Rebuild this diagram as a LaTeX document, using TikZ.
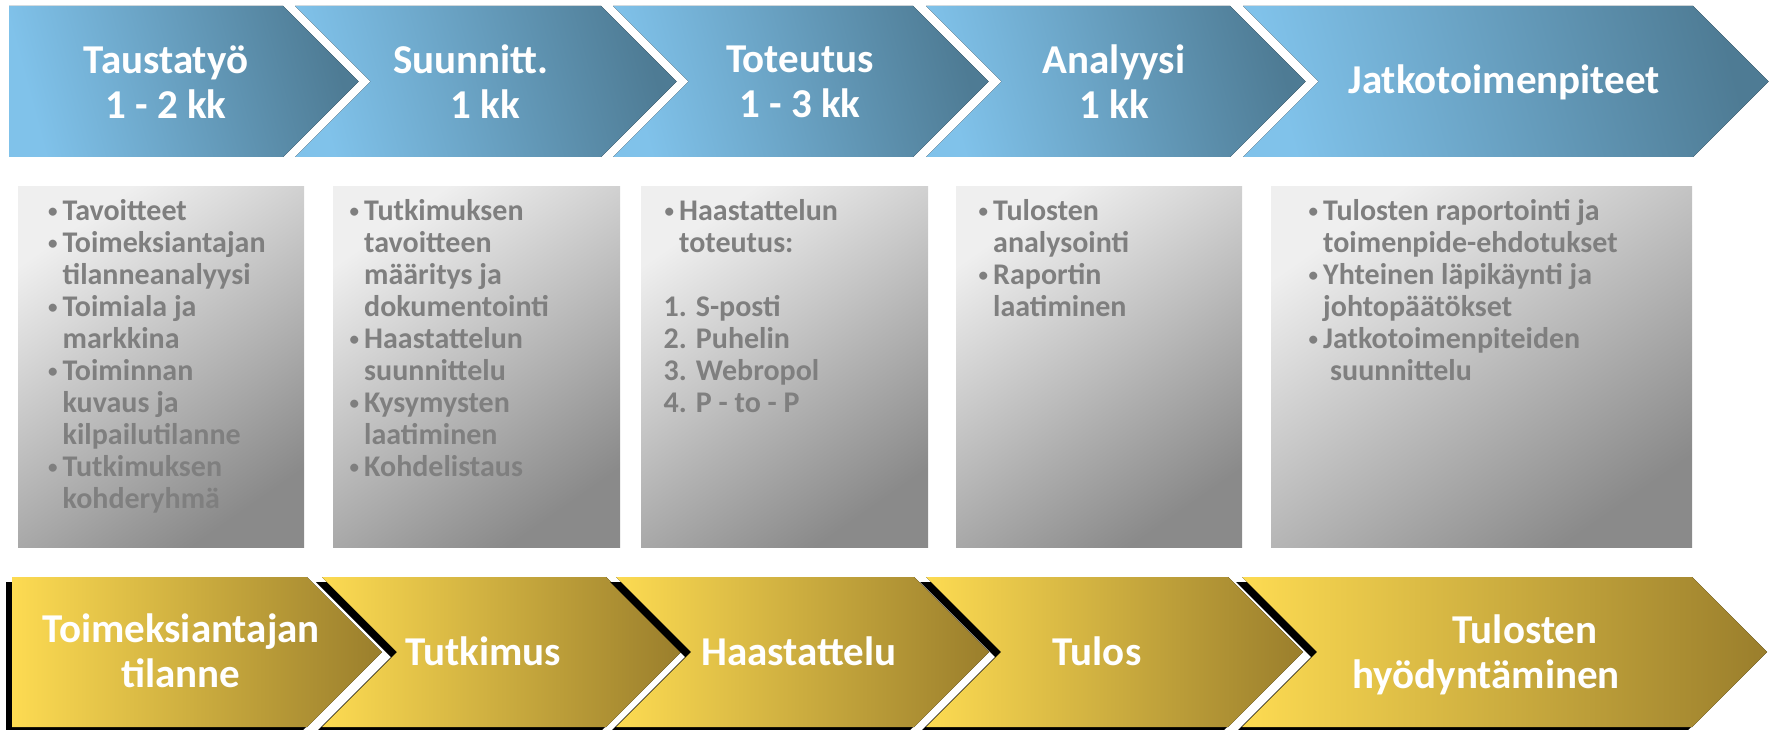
\documentclass[tikz,border=0pt]{standalone}
\usepackage{fontspec}
\setmainfont{Carlito}

\definecolor{phaselight}{HTML}{80C2EA}
\definecolor{phasedark}{HTML}{4E7B94}
\definecolor{goallight}{HTML}{FDDB52}
\definecolor{goaldark}{HTML}{9A7E2C}
\definecolor{notelight}{HTML}{EFEFEF}
\definecolor{notedark}{HTML}{8A8A8A}
\definecolor{notetext}{HTML}{7F7F7F}

\newcommand{\itemline}[1]{\makebox[15.5pt][l]{\hspace{1pt}\raisebox{3pt}{\fontsize{19}{19}\selectfont\textbullet}}#1}
\newcommand{\itemcont}[1]{\hspace*{15.5pt}#1}

\begin{document}
\begin{tikzpicture}[x=1pt,y=-1pt,
		phase/.style={left color=phaselight,right color=phasedark,shading angle=105},
		goal/.style={left color=goallight,right color=goaldark},
		note/.style={left color=notelight,right color=notedark,shading angle=35},
		title/.style={text=white,align=center,inner sep=0,font=\bfseries\fontsize{41}{45}\selectfont},
		items/.style={text=notetext,align=left,inner sep=0,anchor=north west,
			font=\bfseries\fontsize{30}{32}\selectfont,execute at begin node=\strut},
	]
	\useasboundingbox (0,0) rectangle (1775,730);

	\fill[phase] (9,6) -- (283,6) -- (358.5,81.5) -- (283,157) -- (9,157) -- cycle;
	\foreach \l/\r in {295/601,613/913,926/1230,1243/1693}
		\fill[phase] (\l,6) -- (\r,6) -- (\r+75.5,81.5) -- (\r,157) -- (\l,157) -- (\l+75.5,81.5) -- cycle;

	\node[title] (taus) at (166,82) {Taustatyö\\1 - 2 kk};
	\node[title] (suun) at (471,82) {Suunnitt.\\\hspace*{28pt}1 kk};
	\node[title] (tote) at (800,82) {Toteutus\\1 - 3 kk};
	\node[title] (anal) at (1114,82) {Analyysi\\1 kk};
	\node[title] (jatk) at (1504,82) {Jatkotoimenpiteet};

	\foreach \l/\r in {18/304,333/620,641/928,956/1242,1271/1692}
		\fill[note] (\l,187) rectangle (\r,547);

	\node[items] (tausnote) at (47,199.6) {\itemline{Tavoitteet}\\\itemline{Toimeksiantajan}\\
		\itemcont{tilanneanalyysi}\\\itemline{Toimiala ja}\\\itemcont{markkina}\\
		\itemline{Toiminnan}\\\itemcont{kuvaus ja}\\\itemcont{kilpailutilanne}\\
		\itemline{Tutkimuksen}\\\itemcont{kohderyhmä}};
	\node[items] (suunnote) at (348.5,199.6) {\itemline{Tutkimuksen}\\\itemcont{tavoitteen}\\
		\itemcont{määritys ja}\\\itemcont{dokumentointi}\\\itemline{Haastattelun}\\
		\itemcont{suunnittelu}\\\itemline{Kysymysten}\\\itemcont{laatiminen}\\
		\itemline{Kohdelistaus}};
	\node[items] (totenote) at (663.5,199.6) {\itemline{Haastattelun}\\\itemcont{toteutus:}\\[32pt]
		1. S-posti\\2. Puhelin\\3. Webropol\\4. P - to - P};
	\node[items] (analnote) at (977.5,199.6) {\itemline{Tulosten}\\\itemcont{analysointi}\\
		\itemline{Raportin}\\\itemcont{laatiminen}};
	\node[items] (jatknote) at (1307.5,199.6) {\itemline{Tulosten raportointi ja}\\
		\itemcont{toimenpide-ehdotukset}\\\itemline{Yhteinen läpikäynti ja}\\
		\itemcont{johtopäätökset}\\\itemline{Jatkotoimenpiteiden}\\
		\itemcont{\hspace*{7pt}suunnittelu}};

	\fill[shift={(-6,5)}] (12,577) -- (307,577) -- (382,652) -- (307,727) -- (12,727) -- cycle;
	\fill[goal] (12,577) -- (307,577) -- (382,652) -- (307,727) -- (12,727) -- cycle;
	\foreach \l/\r in {322/606,616/914,926/1228,1242/1692}{
		\fill[shift={(-6,5)}] (\l,577) -- (\r,577) -- (\r+75,652) -- (\r,727) -- (\l,727) -- (\l+75,652) -- cycle;
		\fill[goal] (\l,577) -- (\r,577) -- (\r+75,652) -- (\r,727) -- (\l,727) -- (\l+75,652) -- cycle;
	}

	\node[title] (tilanne) at (181,651) {Toimeksiantajan\\tilanne};
	\node[title] (tutk) at (483,651) {Tutkimus};
	\node[title] (haas) at (799,651) {Haastattelu};
	\node[title] (tulos) at (1097,651) {Tulos};
	\node[title] (hyod) at (1486,655) {\hspace*{78pt}Tulosten\\hyödyntäminen};
\end{tikzpicture}
\end{document}
